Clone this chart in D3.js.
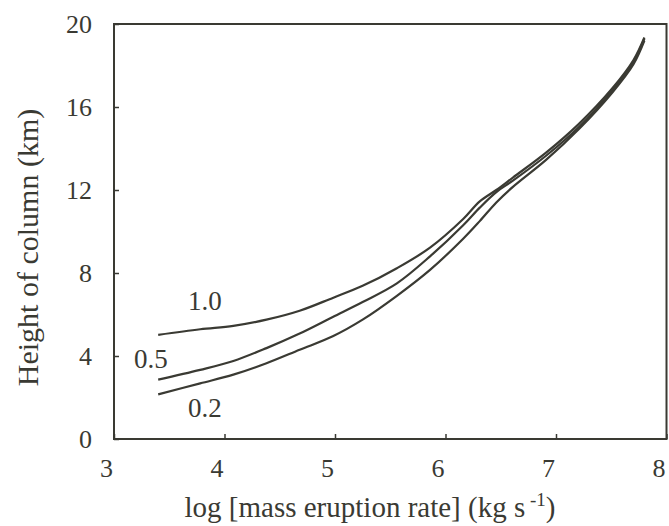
<!DOCTYPE html>
<html>
<head>
<meta charset="utf-8">
<script src="https://cdn.jsdelivr.net/npm/d3@7"></script>
<style>
  body { margin: 0; background: #fff; }
  svg { display: block; }
</style>
</head>
<body>
<div id="chart"></div>
<script>
// log mass eruption rate (shared x positions)
const logRate = [3.40, 3.78, 4.08, 4.38, 4.68, 4.98, 5.25, 5.56, 5.86, 6.16, 6.31, 6.46, 6.61, 6.91, 7.21, 7.51, 7.70, 7.80];
// column height (km) for each curve
const height10 = [5.02, 5.29, 5.45, 5.75, 6.18, 6.80, 7.38, 8.23, 9.22, 10.60, 11.45, 12.00, 12.60, 13.80, 15.20, 16.90, 18.25, 19.35];
const height05 = [2.86, 3.33, 3.76, 4.38, 5.08, 5.88, 6.60, 7.50, 8.80, 10.30, 11.15, 11.90, 12.45, 13.65, 15.05, 16.80, 18.15, 19.30];
const height02 = [2.15, 2.68, 3.10, 3.65, 4.30, 4.95, 5.75, 6.90, 8.15, 9.65, 10.50, 11.40, 12.15, 13.45, 14.95, 16.70, 18.05, 19.20];
const curveLabels = ["1.0", "0.5", "0.2"];
const xTicks = [3, 4, 5, 6, 7, 8];
const yTicks = [0, 4, 8, 12, 16, 20];

const W = 669, H = 526;
const margin = { top: 24, right: 2, bottom: 87, left: 114 };
const ink = "#3a3a33";
const serif = "'Liberation Serif', 'Times New Roman', Times, 'DejaVu Serif', serif";

const svg = d3.select("#chart").append("svg")
  .attr("width", W)
  .attr("height", H)
  .style("font-family", serif);

const x = d3.scaleLinear().domain([3, 8]).range([margin.left, W - margin.right - 0.5]);
const y = d3.scaleLinear().domain([0, 20]).range([H - margin.bottom, margin.top]);

// frame
svg.append("rect")
  .attr("x", x(3))
  .attr("y", y(20))
  .attr("width", x(8) - x(3))
  .attr("height", y(0) - y(20))
  .attr("fill", "none")
  .attr("stroke", ink)
  .attr("stroke-width", 2);

// bottom axis, ticks pointing inward
const xAxis = svg.append("g")
  .attr("transform", `translate(0,${y(0)})`)
  .call(d3.axisBottom(x).tickValues(xTicks).tickSize(-5).tickPadding(20).tickFormat(d3.format("d")))
  .attr("font-family", null)
  .attr("font-size", null);
xAxis.select(".domain").remove();
xAxis.selectAll("line").attr("stroke", ink).attr("stroke-width", 1.5);
xAxis.selectAll("text")
  .style("font-family", serif)
  .attr("font-size", "26px")
  .attr("dx", "-8")
  .attr("fill", ink);

// left axis, ticks pointing inward
const yAxis = svg.append("g")
  .attr("transform", `translate(${x(3)},0)`)
  .call(d3.axisLeft(y).tickValues(yTicks).tickSize(-5).tickPadding(22))
  .attr("font-family", null)
  .attr("font-size", null);
yAxis.select(".domain").remove();
yAxis.selectAll("line").attr("stroke", ink).attr("stroke-width", 1.5);
yAxis.selectAll("text")
  .style("font-family", serif)
  .attr("font-size", "26px")
  .attr("fill", ink);

// curves
const line = d3.line()
  .x(d => x(d[0]))
  .y(d => y(d[1]))
  .curve(d3.curveCatmullRom.alpha(0.5));

[height10, height05, height02].forEach(hs => {
  svg.append("path")
    .datum(logRate.map((v, i) => [v, hs[i]]))
    .attr("d", line)
    .attr("fill", "none")
    .attr("stroke", ink)
    .attr("stroke-width", 2.2);
});

// curve labels
const labelPos = [[3.67, 6.2], [3.18, 3.4], [3.67, 1.05]];
svg.selectAll("text.curve")
  .data(curveLabels)
  .join("text")
  .attr("class", "curve")
  .attr("x", (d, i) => x(labelPos[i][0]))
  .attr("y", (d, i) => y(labelPos[i][1]))
  .attr("font-size", "27px")
  .attr("fill", ink)
  .text(d => d);

// axis titles
svg.append("text")
  .attr("x", 370)
  .attr("y", 517)
  .attr("text-anchor", "middle")
  .attr("font-size", "29px")
  .attr("fill", ink)
  .html('log [mass eruption rate] (kg s<tspan dy="-11" font-size="19px"> -1</tspan><tspan dy="11">)</tspan>');

svg.append("text")
  .attr("transform", `translate(38,${(y(0) + y(20)) / 2 + 16}) rotate(-90)`)
  .attr("text-anchor", "middle")
  .attr("font-size", "30px")
  .attr("fill", ink)
  .text("Height of column (km)");
</script>
</body>
</html>
